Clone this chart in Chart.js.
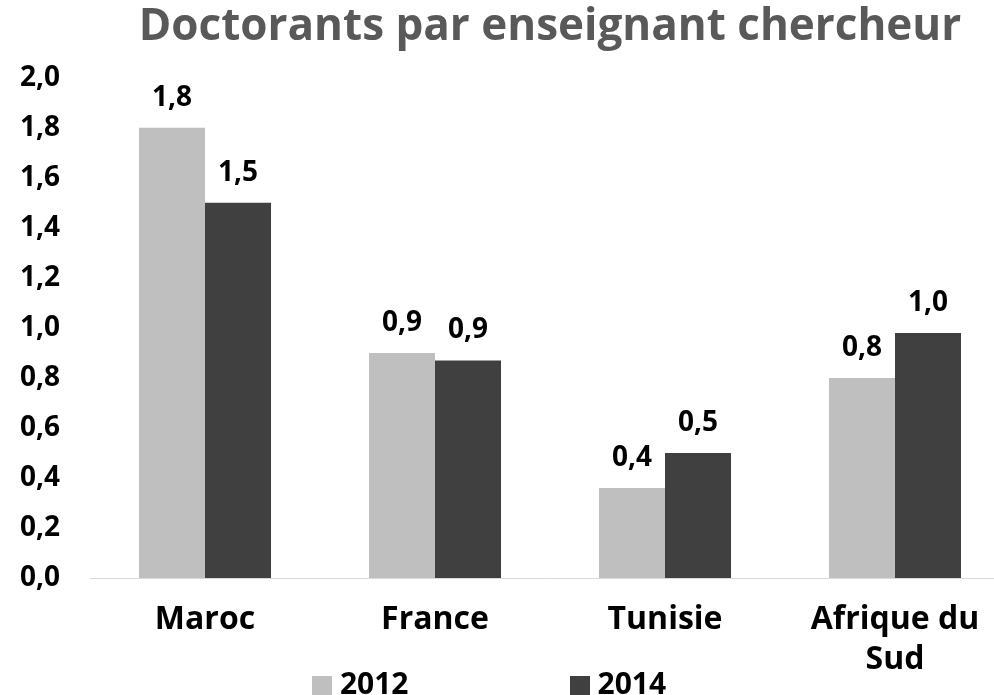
<!DOCTYPE html>
<html>
<head>
<meta charset="utf-8">
<script src="https://cdn.jsdelivr.net/npm/chart.js@4.4.1/dist/chart.umd.min.js"></script>
<style>
    body { margin: 0; overflow: hidden; background: #fff; font-family: 'Open Sans', sans-serif; }
    #wrap { position: relative; width: 994px; height: 695px; overflow: hidden; }
    #chart { display: block; margin-left: -10px; }
    #legend { position: absolute; left: -8px; top: 663px; width: 994px; display: flex; justify-content: center; gap: 161px; font-weight: bold; font-size: 30px; line-height: 40px; color: #000; }
    #legend span.box { display: inline-block; width: 20px; height: 19px; margin-right: 8px; vertical-align: -1px; }
</style>
</head>
<body>
<div id="wrap">
    <canvas id="chart" width="1020" height="702"></canvas>
    <div id="legend"></div>
</div>
<script>
// ======================= DATA =======================
const categories = ['Maroc', 'France', 'Tunisie', ['Afrique du', 'Sud']];
const years = ['2012', '2014'];
const values2012 = [1.80, 0.90, 0.36, 0.80];
const values2014 = [1.50, 0.87, 0.50, 0.98];
const seriesColors = ['#bfbfbf', '#404040'];

const fmt = v => v.toFixed(1).replace('.', ',');

// Draws the value above each bar
const valueLabels = {
    id: 'valueLabels',
    afterDatasetsDraw(chart) {
        const ctx = chart.ctx;
        ctx.save();
        ctx.font = 'bold 28px "Open Sans"';
        ctx.fillStyle = '#000';
        ctx.textAlign = 'center';
        ctx.textBaseline = 'middle';
        chart.data.datasets.forEach((ds, i) => {
            chart.getDatasetMeta(i).data.forEach((bar, j) => {
                ctx.fillText(fmt(ds.data[j]), bar.x, bar.y - 30);
            });
        });
        ctx.restore();
    }
};

const chart = new Chart(document.getElementById('chart').getContext('2d'), {
    type: 'bar',
    data: {
        labels: categories,
        datasets: [
            { label: years[0], data: values2012, backgroundColor: seriesColors[0] },
            { label: years[1], data: values2014, backgroundColor: seriesColors[1] }
        ]
    },
    options: {
        responsive: false,
        animation: false,
        layout: { padding: { left: 0, right: 0, top: 0, bottom: 0 } },
        datasets: {
            bar: { categoryPercentage: 0.574, barPercentage: 1.0 }
        },
        scales: {
            x: {
                grid: { display: false, drawTicks: false },
                border: { display: true, color: '#d9d9d9', width: 1 },
                ticks: {
                    color: '#000',
                    padding: 22,
                    font: { family: 'Open Sans', size: 32, weight: 'bold', lineHeight: 1.25 }
                }
            },
            y: {
                min: 0,
                max: 2,
                grid: { display: false, drawTicks: false },
                border: { display: false },
                ticks: {
                    stepSize: 0.2,
                    padding: 30,
                    color: '#000',
                    font: { family: 'Open Sans', size: 28, weight: 'bold' },
                    callback: v => fmt(v)
                }
            }
        },
        plugins: {
            legend: { display: false },
            tooltip: { enabled: false },
            title: {
                display: true,
                fullSize: false,
                text: 'Doctorants par enseignant chercheur',
                color: '#595959',
                font: { family: 'Open Sans', size: 44, weight: 'bold', lineHeight: 1.2 },
                padding: { top: 1, bottom: 24 }
            }
        }
    },
    plugins: [valueLabels]
});

// HTML legend built from the dataset labels and colours
document.getElementById('legend').innerHTML = chart.data.datasets.map(ds =>
    '<div><span class="box" style="background:' + ds.backgroundColor + '"></span>' + ds.label + '</div>'
).join('');
</script>
</body>
</html>
